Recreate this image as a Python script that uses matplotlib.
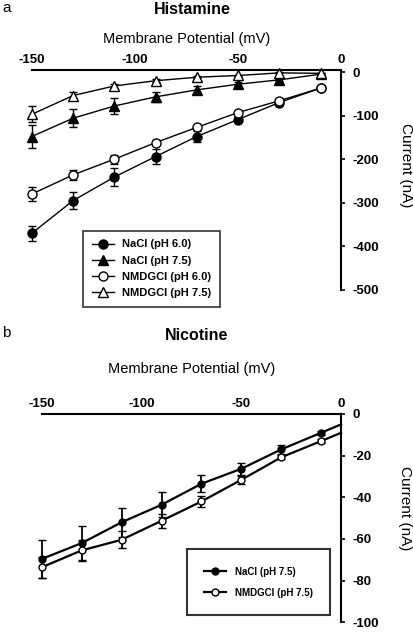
import matplotlib
matplotlib.use("Agg")
import matplotlib.pyplot as plt

plt.rcParams["font.family"] = ["Liberation Sans", "DejaVu Sans"]
plt.rcParams["axes.unicode_minus"] = False

# panel a: histamine
voltage_a = [-150, -130, -110, -90, -70, -50, -30, -10]
nacl_60 = [-370, -295, -241, -194, -148, -109, -70, -37]
nacl_60_err = [17, 20, 20, 17, 12, 6, 4, 3]
nacl_75 = [-148, -106, -78, -57, -41, -28, -18, -5]
nacl_75_err = [27, 20, 18, 12, 10, 5, 3, 2]
nmdg_60 = [-280, -236, -200, -162, -127, -93, -66, -37]
nmdg_60_err = [15, 12, 10, 6, 4, 3, 3, 2]
nmdg_75 = [-97, -54, -32, -20, -12, -8, -2, -3]
nmdg_75_err = [18, 8, 4, 3, 2, 2, 1, 1]

# panel b: nicotine (last point at 0 mV has no marker)
voltage_b = [-150, -130, -110, -90, -70, -50, -30, -10, 0]
nic_nacl = [-69.6, -62, -52, -43.6, -33.5, -26.3, -17, -9, -5]
nic_nacl_err = [9, 8, 7, 6, 4, 3, 2, 1, 0]
nic_nmdg = [-73.6, -65.5, -60.4, -51.3, -42, -31.6, -20.8, -13, -9]
nic_nmdg_err = [5, 5, 4, 3.5, 2.5, 2, 1, 1, 0]


def style_axis(ax, yticks, xlabel_pad, ylabel_xy):
    ax.spines["left"].set_visible(False)
    ax.spines["bottom"].set_visible(False)
    ax.spines["top"].set_linewidth(1.5)
    ax.spines["right"].set_linewidth(1.5)
    ax.xaxis.set_ticks_position("top")
    ax.yaxis.set_ticks_position("right")
    ax.xaxis.set_label_position("top")
    ax.yaxis.set_label_position("right")
    ax.set_xticks([-150, -100, -50, 0])
    ax.set_yticks(yticks)
    ax.tick_params(axis="x", direction="in", length=0, pad=3, labelsize=9.5)
    ax.tick_params(axis="y", direction="out", length=3, width=1.2, pad=5, labelsize=9.5)
    for lab in ax.get_xticklabels() + ax.get_yticklabels():
        lab.set_fontweight("bold")
    ax.set_xlabel("Membrane Potential (mV)", fontsize=10.5, labelpad=xlabel_pad)
    ax.set_ylabel("Current (nA)", fontsize=11, rotation=270, va="center")
    ax.yaxis.set_label_coords(*ylabel_xy)


fig = plt.figure(figsize=(4.14, 6.33), dpi=100)

ax_a = fig.add_axes([0.077, 0.542, 0.747, 0.347])
common = dict(color="black", lw=1, capsize=3, elinewidth=1, ecolor="black", markersize=6.5,
              mec="black", clip_on=False)
series_a = [
    (nacl_60, nacl_60_err, "o", "black", "NaCl (pH 6.0)"),
    (nacl_75, nacl_75_err, "^", "black", "NaCl (pH 7.5)"),
    (nmdg_60, nmdg_60_err, "o", "white", "NMDGCl (pH 6.0)"),
    (nmdg_75, nmdg_75_err, "^", "white", "NMDGCl (pH 7.5)"),
]
handles, labels = [], []
for values, errors, marker, face, label in series_a:
    cont = ax_a.errorbar(voltage_a, values, yerr=errors, marker=marker, mfc=face, **common)
    handles.append(cont[0])
    labels.append(label)
ax_a.set_xlim(-150, 0)
ax_a.set_ylim(-500, 4)
style_axis(ax_a, [0, -100, -200, -300, -400, -500], 8, (1.21, 0.57))
leg = ax_a.legend(handles, labels, loc="upper left", bbox_to_anchor=(0.165, 0.27),
                  prop={"weight": "bold", "size": 8}, frameon=True, fancybox=False, edgecolor="black",
                  handlelength=2.0, borderpad=0.8, labelspacing=0.55, handletextpad=0.7, borderaxespad=0)
leg.get_frame().set_linewidth(1.2)

ax_b = fig.add_axes([0.101, 0.017, 0.723, 0.329])
ax_b.errorbar(voltage_b[:8], nic_nacl[:8], yerr=nic_nacl_err[:8], fmt="none", ecolor="black",
              elinewidth=1.3, capsize=3, clip_on=False)
ax_b.errorbar(voltage_b[:8], nic_nmdg[:8], yerr=nic_nmdg_err[:8], fmt="none", ecolor="black",
              elinewidth=1.3, capsize=3, clip_on=False)
ax_b.plot(voltage_b, nic_nacl, color="black", lw=1.6, marker="o", mfc="black", mec="black",
          markersize=5, markevery=list(range(8)), label="NaCl (pH 7.5)", clip_on=False)
ax_b.plot(voltage_b, nic_nmdg, color="black", lw=1.6, marker="o", mfc="white", mec="black",
          markersize=5, markevery=list(range(8)), label="NMDGCl (pH 7.5)", clip_on=False)
ax_b.set_xlim(-150, 0)
ax_b.set_ylim(-100, 0)
style_axis(ax_b, [0, -20, -40, -60, -80, -100], 18, (1.215, 0.55))
leg_b = ax_b.legend(loc="upper left", bbox_to_anchor=(0.485, 0.35), prop={"weight": "bold", "size": 7},
                    frameon=True, fancybox=False, edgecolor="black", handlelength=2.2,
                    borderpad=1.8, labelspacing=1.1, handletextpad=0.9, borderaxespad=0)
leg_b.get_frame().set_linewidth(1.5)

fig.text(0.005, 0.998, "a", fontsize=11, va="top", ha="left")
fig.text(0.465, 0.997, "Histamine", fontsize=11.5, fontweight="bold", va="top", ha="center")
fig.text(0.005, 0.485, "b", fontsize=11, va="top", ha="left")
fig.text(0.475, 0.482, "Nicotine", fontsize=11.5, fontweight="bold", va="top", ha="center")

fig.savefig("out.png", dpi=100)
